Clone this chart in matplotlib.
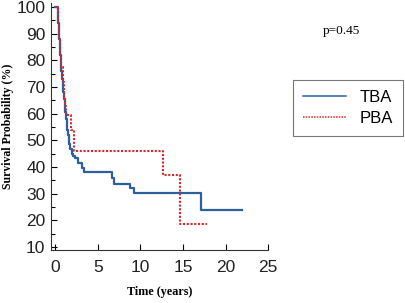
import matplotlib
matplotlib.use('Agg')
import matplotlib.pyplot as plt
from matplotlib.ticker import MultipleLocator

# Kaplan-Meier step data
tba_time = [0, 0.3, 0.36, 0.42, 0.48, 0.54, 0.6, 0.66, 0.72, 0.8, 0.88, 0.95,
            1.02, 1.1, 1.18, 1.26, 1.34, 1.42, 1.5, 1.58, 1.66, 1.76, 1.95,
            2.1, 2.35, 2.7, 3.1, 3.4, 6.65, 6.85, 8.8, 9.3, 17.1, 21.9]
tba_surv = [100, 97, 94, 91, 88, 85, 82, 79, 76, 73, 70.5, 68,
            65.5, 63, 60.5, 58, 56, 54, 52, 50.3, 48.5, 46.6, 45,
            44.3, 43.5, 41.6, 39.7, 38.2, 36, 33.6, 32, 30.2, 24, 24]

pba_time = [0, 0.3, 0.36, 0.42, 0.48, 0.54, 0.6, 0.67, 0.9, 0.95, 1.0, 1.05,
            1.15, 1.3, 1.84, 2.15, 12.6, 14.7, 17.8]
pba_surv = [100, 97, 94, 91, 88, 85, 82, 77.5, 75, 72, 69, 66,
            63, 59.6, 54, 46.2, 37.1, 18.7, 18.7]

x_ticks = [0, 5, 10, 15, 20, 25]
y_ticks = [10, 20, 30, 40, 50, 60, 70, 80, 90, 100]

fig = plt.figure(figsize=(4.05, 3.03), dpi=100)
ax = fig.add_axes([0.126, 0.175, 0.536, 0.815])

ax.step(tba_time, tba_surv, where='post', color='#2b5f9e', lw=1.6, label='TBA')
ax.step(pba_time, pba_surv, where='post', color='#d62828', lw=1.5,
        linestyle=(0, (1, 0.8)), label='PBA')

ax.set_xlim(-0.5, 25)
ax.set_ylim(8.9, 101.5)
ax.set_xticks(x_ticks)
ax.set_yticks(y_ticks)
ax.yaxis.set_minor_locator(MultipleLocator(5))
ax.tick_params(direction='in', length=4, width=0.8, labelsize=12.5,
               labelcolor='#222222', pad=4)
ax.tick_params(axis='y', which='minor', direction='in', length=3, width=0.8)
ax.tick_params(axis='x', pad=7)
for lab in ax.get_xticklabels() + ax.get_yticklabels():
    lab.set_family('Liberation Sans')

ax.spines['top'].set_visible(False)
ax.spines['right'].set_visible(False)
ax.spines['left'].set_color('#333333')
ax.spines['bottom'].set_color('#333333')

ax.set_xlabel('Time (years)', family='Liberation Serif', fontweight='bold',
              fontsize=8.7, labelpad=8)
ax.set_ylabel('Survival Probability (%)', family='Liberation Serif',
              fontweight='bold', fontsize=8.5, labelpad=2)

fig.text(0.842, 0.898, 'p=0.45', family='Liberation Serif', fontsize=9.5,
         ha='center', va='center')

leg = fig.legend(loc='upper left', bbox_to_anchor=(0.723, 0.737),
                 prop={'family': 'Liberation Sans', 'size': 12},
                 frameon=True, fancybox=False, edgecolor='#555555',
                 handlelength=2.6, handletextpad=0.8, borderpad=0.6,
                 labelspacing=0.35, borderaxespad=0)
leg.get_frame().set_linewidth(0.8)
for line in leg.get_lines():
    line.set_linewidth(1.1)

fig.savefig('out.png', dpi=100)
